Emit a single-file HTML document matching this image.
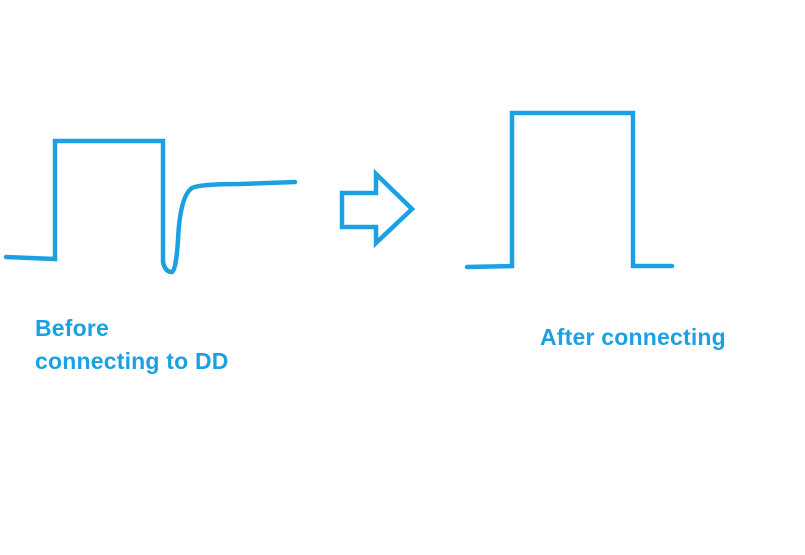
<!DOCTYPE html>
<html><head><style>
body{margin:0;width:805px;height:555px;background:#fff;overflow:hidden;position:relative}
svg{position:absolute;left:0;top:0}
.t{position:absolute;font-family:"Liberation Sans",sans-serif;font-weight:bold;font-size:23px;color:#1ba1e2;line-height:33px;letter-spacing:0.2px}
</style></head><body>
<svg width="805" height="555">
<g fill="none" stroke="#1ba1e2" stroke-width="4.5" stroke-linejoin="miter" stroke-linecap="round">
<path d="M6,257 L55,259 L55,141 L163,141 L163,262 Q165,272 172,272 Q176,270 178,240 Q180,196 192,188 Q200,184 240,184 L295,182"/>
<path d="M342,193 L376,193 L376,174 L412,209 L376,243 L376,227 L342,227 Z"/>
<path d="M467,267 L512,266 L512,113 L633,113 L633,266 L672,266"/>
</g>
</svg>
<div class="t" style="left:35px;top:312px">Before<br>connecting to DD</div>
<div class="t" style="left:540px;top:321px">After connecting</div>
</body></html>
